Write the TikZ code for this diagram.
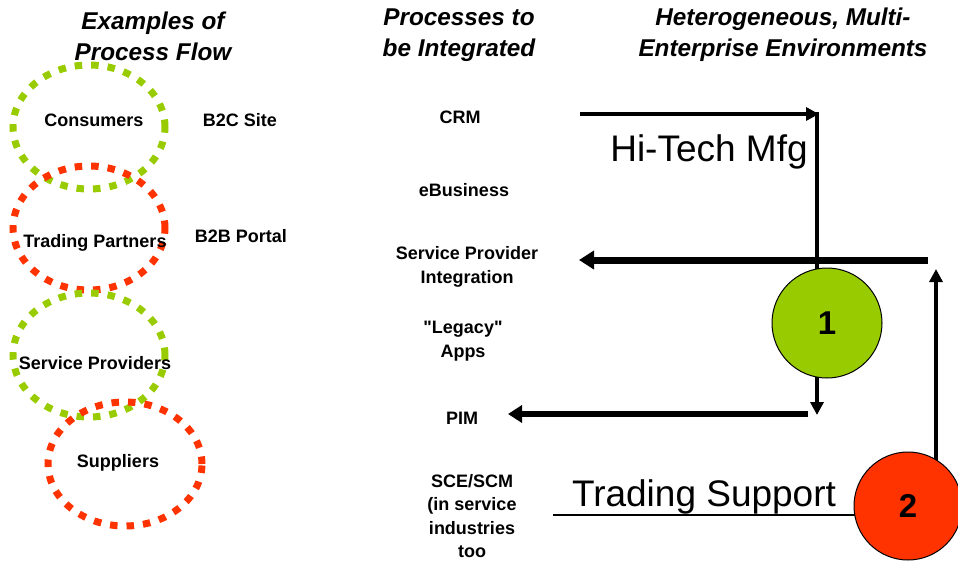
\documentclass[tikz,border=0pt]{standalone}
\usepackage{fontspec}
\setmainfont{Liberation Sans}
\usetikzlibrary{arrows.meta,shapes.geometric}
\definecolor{lgreen}{HTML}{99CC00}
\definecolor{lred}{HTML}{FF3300}
\pgfdeclarelayer{bg}
\pgfsetlayers{bg,main}
\tikzset{
  title/.style={font=\bfseries\itshape\fontsize{24.3}{31}\selectfont, align=center, inner sep=0pt},
  lbl/.style={font=\bfseries\fontsize{18}{23.5}\selectfont, align=center, inner sep=0pt},
  big/.style={font=\fontsize{37}{42}\selectfont, inner sep=0pt},
  dotell/.style={ellipse, draw, line width=7pt, dash pattern=on 7.5pt off 9pt, minimum width=152pt, minimum height=124pt, inner sep=0pt},
  num/.style={circle, draw=black, line width=1pt, minimum size=110pt, inner sep=0pt, font=\bfseries\fontsize{33}{33}\selectfont},
  thinarr/.style={line width=4pt, -{Triangle[length=13pt,width=13pt]}},
  thickarr/.style={line width=7pt, -{Triangle[length=15pt,width=18pt]}},
  midarr/.style={line width=5.5pt, -{Triangle[length=14pt,width=17pt]}},
}
\begin{document}
\begin{tikzpicture}[x=1pt,y=-1pt]
\useasboundingbox (0,0) rectangle (958,562);
% titles
\node[title] (tt1) at (153,36) {Examples of\\Process Flow};
\node[title] (tt2) at (459,35) {Processes to\\be Integrated};
\node[title] (tt3) at (783,35) {Heterogeneous, Multi-\\Enterprise Environments};
% dotted ellipses
\node[dotell, draw=lgreen] (e1) at (89,127) {};
\node[dotell, draw=lred] (e2) at (89,228) {};
\node[dotell, draw=lgreen] (e3) at (89,355) {};
\node[dotell, draw=lred, minimum width=154pt] (e4) at (125,464) {};
\node[lbl] (c) at (94,120) {Consumers};
\node[lbl] (tp) at (95,243) {Trading Partners};
\node[lbl] (sp) at (95,363) {Service Providers};
\node[lbl] (su) at (118,463) {Suppliers};
\node[lbl] (b2c) at (240,120) {B2C Site};
\node[lbl] (b2b) at (241,236) {B2B Portal};
% middle labels
\node[lbl] (crm) at (460,117) {CRM};
\node[lbl] (eb) at (464,190) {eBusiness};
\node[lbl] (spi) at (467,267) {Service Provider\\Integration};
\node[lbl] (leg) at (463,341) {\textquotedbl Legacy\textquotedbl\\Apps};
\node[lbl] (pim) at (462,418) {PIM};
\node[lbl] (sce) at (472,516) {SCE/SCM\\(in service\\industries\\too};
% big labels
\node[big] (htm) at (709,152) {Hi-Tech Mfg};
\node[big] (ts) at (704,497) {Trading Support};
% circles
\node[num, fill=lgreen] (c1) at (827,323) {1};
\node[num, fill=lred, minimum size=108pt] (c2) at (908,506) {2};
% coordinates
\coordinate (crmS) at (580,114);
\coordinate (crmE) at (819,114);
\coordinate (vTop) at (817,112);
\coordinate (vBot) at (817,300);
\coordinate (dS) at (817,376);
\coordinate (dE) at (817,415);
\coordinate (pimS) at (808,414);
\coordinate (pimE) at (508,414);
\coordinate (spS) at (928,260);
\coordinate (spE) at (579,260);
\coordinate (upS) at (936,470);
\coordinate (upE) at (936,269);
\coordinate (tsS) at (553,515);
\coordinate (tsE) at (870,515);
\begin{pgfonlayer}{bg}
\draw[thinarr] (crmS) -- (crmE);
\draw[line width=4pt] (vTop) -- (vBot);
\draw[thinarr] (dS) -- (dE);
\draw[midarr] (pimS) -- (pimE);
\draw[thickarr] (spS) -- (spE);
\draw[thinarr] (upS) -- (upE);
\draw[line width=1.5pt] (tsS) -- (tsE);
\end{pgfonlayer}
\end{tikzpicture}
\end{document}
